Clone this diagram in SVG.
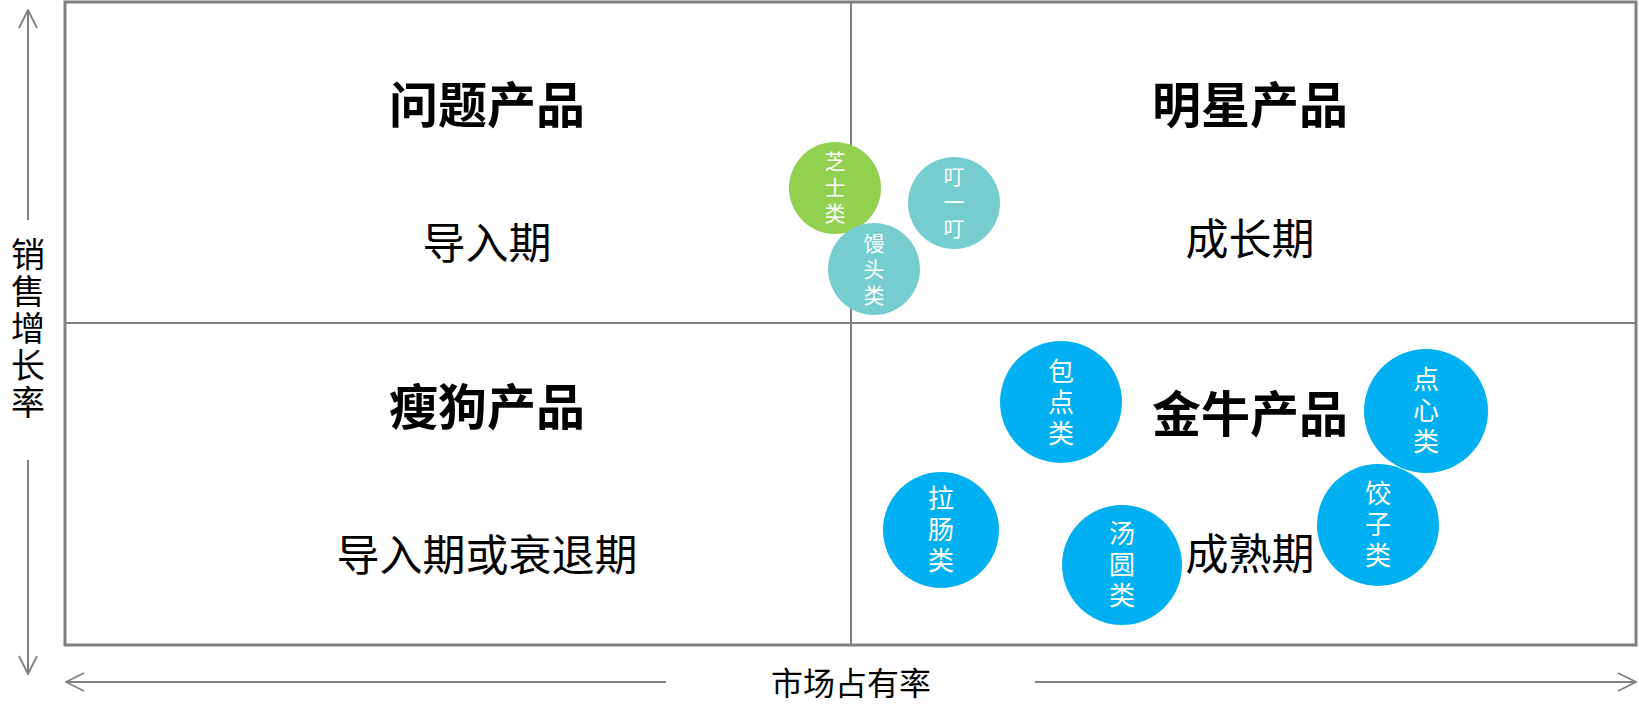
<svg xmlns="http://www.w3.org/2000/svg" width="1639" height="710" viewBox="0 0 1639 710">
<style>
.t{font-family:"Noto Sans CJK SC","Liberation Sans",sans-serif;text-anchor:middle;dominant-baseline:central;fill:#000}
.h{font-size:49px;font-weight:bold}
.s{font-size:43px}
.ax{font-size:32px}
.v{writing-mode:vertical-rl;text-anchor:middle;dominant-baseline:central}
.c{font-family:"Noto Sans CJK SC","Liberation Sans",sans-serif;fill:#fff}
.cb{font-size:26px;letter-spacing:5px}
.cs{font-size:21px;letter-spacing:5px}
.line{stroke:#808080;fill:none}
</style>
<defs>
<marker id="ah" viewBox="0 0 20 20" refX="19" refY="10" markerWidth="20" markerHeight="20" markerUnits="userSpaceOnUse" orient="auto-start-reverse">
<path d="M1,1 L19,10 L1,19" fill="none" stroke="#808080" stroke-width="1.8"/>
</marker>
</defs>
<rect width="1639" height="710" fill="#fff"/>
<g id="frame">
<rect x="65" y="2" width="1571" height="643" class="line" stroke-width="3"/>
<line x1="851" y1="2" x2="851" y2="645" class="line" stroke-width="2"/>
<line x1="65" y1="323" x2="1636" y2="323" class="line" stroke-width="2"/>
</g>
<g id="connectors">
<line x1="28" y1="220" x2="28" y2="10" class="line" stroke-width="2" marker-end="url(#ah)"/>
<line x1="28" y1="460" x2="28" y2="674" class="line" stroke-width="2" marker-end="url(#ah)"/>
<line x1="666" y1="682" x2="66" y2="682" class="line" stroke-width="2" marker-end="url(#ah)"/>
<line x1="1035" y1="682" x2="1636" y2="682" class="line" stroke-width="2" marker-end="url(#ah)"/>
</g>
<g id="axis-y"><text class="t v" x="28" y="330" font-size="34" letter-spacing="3">销售增长率</text></g>
<g id="axis-x"><text class="t ax" x="851" y="681">市场占有率</text></g>
<g id="q1"><text class="t h" x="487" y="101">问题产品</text><text class="t s" x="487" y="240">导入期</text></g>
<g id="q2"><text class="t h" x="1250" y="101">明星产品</text><text class="t s" x="1250" y="236">成长期</text></g>
<g id="q3"><text class="t h" x="487" y="403">瘦狗产品</text><text class="t s" x="487" y="552">导入期或衰退期</text></g>
<g id="q4"><text class="t h" x="1250" y="410">金牛产品</text><text class="t s" x="1250" y="551">成熟期</text></g>
<g id="zhishi"><circle cx="835" cy="188" r="46" fill="#92D050"/>
<text class="c cs v" x="835" y="190">芝士类</text></g>
<g id="dingyiding"><circle cx="954" cy="203" r="46" fill="#76CDD0"/>
<text class="c cs v" x="954" y="205">叮一叮</text></g>
<g id="mantou"><circle cx="874" cy="269" r="46" fill="#76CDD0"/>
<text class="c cs v" x="874" y="272">馒头类</text></g>
<g id="baodian"><circle cx="1061" cy="402" r="61" fill="#00B0F0"/>
<text class="c cb v" x="1061" y="405">包点类</text></g>
<g id="dianxin"><circle cx="1426" cy="411" r="62" fill="#00B0F0"/>
<text class="c cb v" x="1426" y="413">点心类</text></g>
<g id="lachang"><circle cx="941" cy="530" r="58" fill="#00B0F0"/>
<text class="c cb v" x="941" y="532">拉肠类</text></g>
<g id="tangyuan"><circle cx="1122" cy="565" r="60" fill="#00B0F0"/>
<text class="c cb v" x="1122" y="567">汤圆类</text></g>
<g id="jiaozi"><circle cx="1378" cy="525" r="61" fill="#00B0F0"/>
<text class="c cb v" x="1378" y="527">饺子类</text></g>
</svg>
